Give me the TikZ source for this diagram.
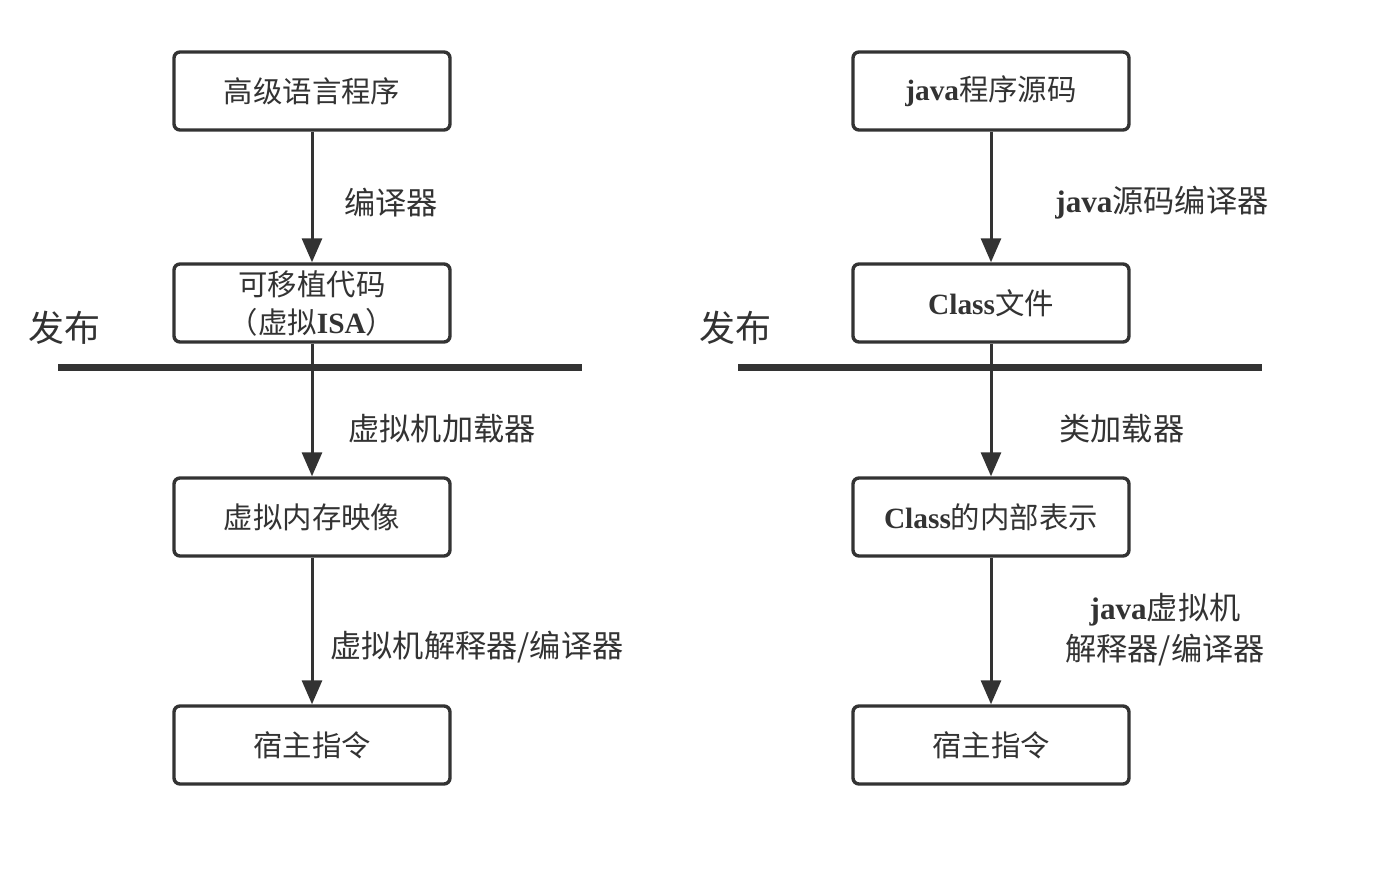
\documentclass[tikz,border=0pt]{standalone}
\usepackage{fontspec}
\usepackage{xcolor}
\usetikzlibrary{arrows.meta}
\setmainfont{Liberation Serif}
\newfontfamily\cjk{Noto Sans CJK SC}
\newcommand{\lb}[1]{{\rmfamily\bfseries #1}}
\definecolor{ink}{RGB}{51,51,51}

\begin{document}
\begin{tikzpicture}[x=0.5pt,y=-0.5pt,
    box/.style={draw=ink,text=ink,line width=1.7pt,rounded corners=3pt,
      minimum width=138pt,minimum height=39pt,font=\fontsize{14.7}{19}\selectfont,align=center,inner sep=0pt},
    lbl/.style={text=ink,anchor=west,font=\fontsize{15.6}{20.5}\selectfont,inner sep=0pt},
    arr/.style={draw=ink,line width=1.5pt,-{Triangle[length=12pt,width=10pt]}},
    sep/.style={draw=ink,line width=3.5pt}]
  \useasboundingbox (0,0) rectangle (1378,870);

  % left column
  \node[box] (hll) at (312,91) {\cjk 高级语言程序};
  \node[box] (port) at (312,303) {\cjk 可移植代码\\\cjk （虚拟\lb{ISA}）};
  \node[box] (vmem) at (312,517) {\cjk 虚拟内存映像};
  \node[box] (host) at (312,745) {\cjk 宿主指令};

  \draw[arr] (hll) -- (port);
  \draw[arr] (port) -- (vmem);
  \draw[arr] (vmem) -- (host);

  \node[lbl] (compl) at (344,203) {\cjk 编译器};
  \node[lbl] (loadl) at (348,429) {\cjk 虚拟机加载器};
  \node[lbl] (interl) at (330,647) {\cjk 虚拟机解释器/编译器};

  \coordinate (publa) at (58,368);
  \coordinate (publb) at (582,368);
  \draw[sep] (publa) -- (publb);
  \node[text=ink,font=\fontsize{18}{20}\selectfont] (publ) at (64,328) {\cjk 发布};

  % right column
  \node[box] (src) at (991,91) {\lb{java}\cjk 程序源码};
  \node[box] (cls) at (991,303) {\lb{Class}\cjk 文件};
  \node[box] (clsin) at (991,517) {\lb{Class}\cjk 的内部表示};
  \node[box] (hostr) at (991,745) {\cjk 宿主指令};

  \draw[arr] (src) -- (cls);
  \draw[arr] (cls) -- (clsin);
  \draw[arr] (clsin) -- (hostr);

  \node[lbl] (compr) at (1055,203) {\lb{java}\cjk 源码编译器};
  \node[lbl] (loadr) at (1059,429) {\cjk 类加载器};
  \node[lbl,anchor=center,align=center] (interr) at (1165,630)
    {\lb{java}\cjk 虚拟机\\\cjk 解释器/编译器};

  \coordinate (pubra) at (738,368);
  \coordinate (pubrb) at (1262,368);
  \draw[sep] (pubra) -- (pubrb);
  \node[text=ink,font=\fontsize{18}{20}\selectfont] (pubr) at (735,328) {\cjk 发布};
\end{tikzpicture}
\end{document}
